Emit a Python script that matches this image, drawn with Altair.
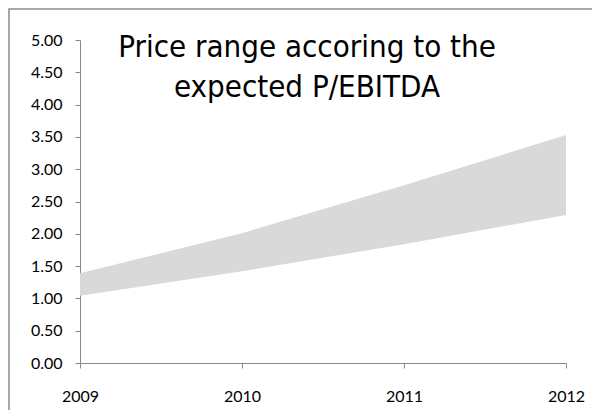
import altair as alt
import pandas as pd

years = [2009, 2010, 2011, 2012]
lower = [1.04, 1.42, 1.84, 2.29]
upper = [1.39, 2.01, 2.75, 3.53]
title_lines = ["Price range accoring to the", "expected P/EBITDA"]
y_ticks = [0, 0.5, 1, 1.5, 2, 2.5, 3, 3.5, 4, 4.5, 5]

df = pd.DataFrame({"year": years, "low": lower, "high": upper})

W, H = 486, 323

x_scale = alt.Scale(domain=[2009, 2012], nice=False, zero=False)
y_scale = alt.Scale(domain=[0, 5], nice=False)

area = alt.Chart(df).mark_area(color="#d9d9d9", opacity=1).encode(
    x=alt.X("year:Q", scale=x_scale,
            axis=alt.Axis(values=years, format="d", title=None, grid=False,
                          domainColor="#888888", tickColor="#888888", tickSize=5,
                          labelFont="Lato", labelFontSize=16, labelColor="#000000",
                          labelPadding=20, labelFlush=False)),
    y=alt.Y("low:Q", scale=y_scale,
            axis=alt.Axis(values=y_ticks, format=".2f", title=None, grid=False,
                          domainColor="#888888", tickColor="#888888", tickSize=5,
                          labelFont="Lato", labelFontSize=16, labelColor="#000000",
                          labelPadding=13)),
    y2="high:Q",
)

title = alt.Chart(pd.DataFrame({"t": ["\n".join(title_lines)]})).mark_text(
    font="DejaVu Sans Condensed, Liberation Sans, sans-serif", fontSize=31, color="#000000",
    align="center", baseline="alphabetic", lineBreak="\n", lineHeight=40,
).encode(text="t:N", x=alt.value(227), y=alt.value(17))

border = alt.Chart(pd.DataFrame({"a": [0]})).mark_rect(
    fill=None, stroke="#8c8c8c", strokeWidth=1.5
).encode(x=alt.value(-71), x2=alt.value(700), y=alt.value(-31), y2=alt.value(600))

chart = alt.layer(border, area, title).properties(
    width=W, height=H,
    autosize=alt.AutoSizeParams(type="none"),
    padding={"left": 72, "top": 32, "right": 26, "bottom": 47},
).configure_view(stroke=None)

chart.save("out.html", embed_options={"renderer": "svg", "actions": False})
